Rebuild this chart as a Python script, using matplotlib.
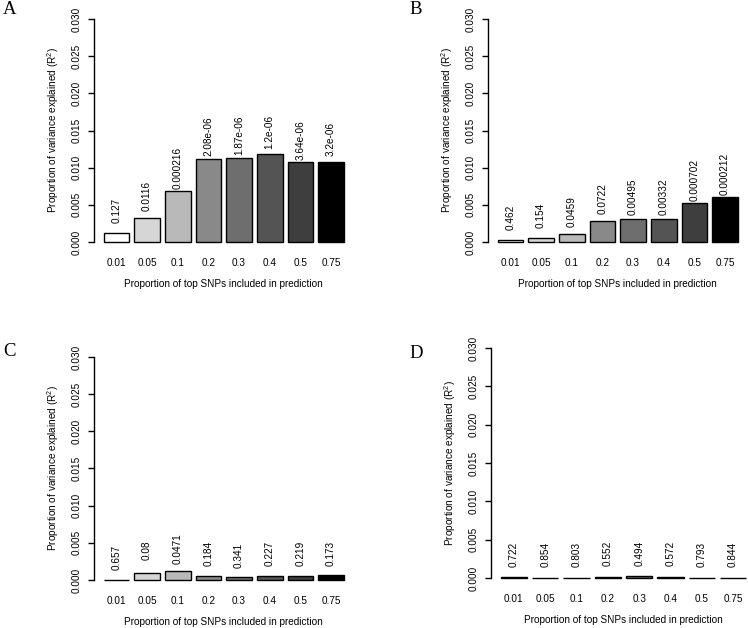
import matplotlib
matplotlib.use("Agg")
import matplotlib.pyplot as plt
import numpy as np

plt.rcParams['font.family'] = ['Liberation Sans', 'DejaVu Sans']
plt.rcParams['mathtext.fontset'] = 'custom'
plt.rcParams['mathtext.rm'] = 'Liberation Sans'
plt.rcParams['mathtext.it'] = 'Liberation Sans:italic'

categories = ["0.01", "0.05", "0.1", "0.2", "0.3", "0.4", "0.5", "0.75"]
bar_colors = ["#ffffff", "#d6d6d6", "#b9b9b9", "#898989", "#6e6e6e", "#545454", "#3e3e3e", "#000000"]

r2_A = [0.00125, 0.00325, 0.0069, 0.0112, 0.0113, 0.0118, 0.0107, 0.0108]
p_A = ["0.127", "0.0116", "0.000216", "2.08e-06", "1.87e-06", "1.2e-06", "3.64e-06", "3.2e-06"]

r2_B = [0.0003, 0.00055, 0.00105, 0.00285, 0.00315, 0.00315, 0.0053, 0.0061]
p_B = ["0.462", "0.154", "0.0459", "0.0722", "0.00495", "0.00332", "0.000702", "0.000212"]

r2_C = [0.00003, 0.001, 0.00122, 0.00057, 0.00036, 0.00053, 0.00053, 0.00062]
p_C = ["0.657", "0.08", "0.0471", "0.184", "0.341", "0.227", "0.219", "0.173"]

r2_D = [0.00008, 0.00002, 0.00003, 0.00018, 0.00026, 0.00018, 0.00003, 0.00002]
p_D = ["0.722", "0.854", "0.803", "0.552", "0.494", "0.572", "0.793", "0.844"]

W, H = 748, 628
fig = plt.figure(figsize=(W / 100, H / 100), dpi=100)

YMIN, YMAX = -0.0012, 0.0312
XMIN, XMAX = -0.176, 9.976
FS = 7.2


def add_panel(left_px, zero_px, px_per_unit, px_per_003, r2, pvals, letter, letter_xy):
    top_px = zero_px - YMAX * px_per_003 / 0.03
    bot_px = zero_px - YMIN * px_per_003 / 0.03
    width_px = (XMAX - XMIN) * px_per_unit
    ax = fig.add_axes([left_px / W, 1 - bot_px / H, width_px / W, (bot_px - top_px) / H])
    x = 0.7 + 1.2 * np.arange(len(categories))
    ax.bar(x, r2, width=1.0, color=bar_colors, edgecolor="black", linewidth=1.0)
    for xi, yi, p in zip(x, r2, pvals):
        ax.text(xi, yi + 0.003, p, rotation=90, ha="center", va="center", fontsize=FS)
    ax.set_xlim(XMIN, XMAX)
    ax.set_ylim(YMIN, YMAX)
    for s in ["top", "right", "bottom"]:
        ax.spines[s].set_visible(False)
    ax.spines["left"].set_bounds(0, 0.03)
    ax.spines["left"].set_linewidth(1.0)
    ticks = np.arange(0, 0.0301, 0.005)
    ax.set_yticks(ticks)
    ax.set_yticklabels(["%.3f" % v for v in ticks], rotation=90, va="center", fontsize=FS)
    ax.tick_params(axis="y", length=4.3, width=1.0, pad=4.5)
    ax.set_xticks(x)
    ax.set_xticklabels(categories, fontsize=FS)
    ax.tick_params(axis="x", length=0, pad=5)
    ax.set_xlabel("Proportion of top SNPs included in prediction", fontsize=FS)
    ax.xaxis.set_label_coords(0.5, (bot_px - (zero_px + 37)) / (bot_px - top_px))
    ax.set_ylabel("Proportion of variance explained (R$^2$)", fontsize=FS, va="center")
    ax.yaxis.set_label_coords(-41 / width_px, 0.5)
    fig.text(letter_xy[0] / W, 1 - letter_xy[1] / H, letter, fontsize=13.5,
             family=["Liberation Serif", "DejaVu Serif"], ha="left", va="center")
    return ax


add_panel(94, 242, 25.56, 223, r2_A, p_A, "A", (3, 9))
add_panel(488, 242, 25.56, 223, r2_B, p_B, "B", (409, 9))
add_panel(94, 580, 25.56, 223, r2_C, p_C, "C", (3, 351))
add_panel(491, 578, 26.1, 230, r2_D, p_D, "D", (409, 353))

fig.savefig("out.png", dpi=100)
